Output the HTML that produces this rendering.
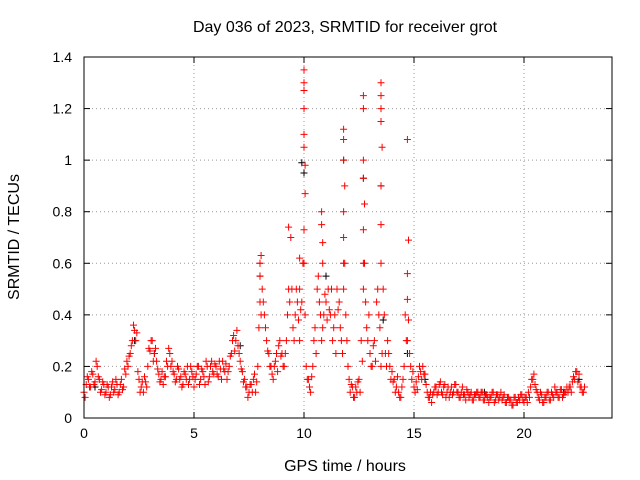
<!DOCTYPE html>
<html><head><meta charset="utf-8"><style>
body{margin:0;background:#fff;}
svg{display:block;font-family:"Liberation Sans",sans-serif;}
</style></head><body>
<svg id="chart" width="640" height="480">
<text x="345" y="32" font-size="16" text-anchor="middle">Day 036 of 2023, SRMTID for receiver grot</text>
<text x="345" y="471" font-size="16" text-anchor="middle">GPS time / hours</text>
<text x="19" y="237" font-size="16" text-anchor="middle" transform="rotate(-90 19 237)">SRMTID / TECUs</text>
<g id="grid"></g><g id="marks"></g>
<rect x="84" y="57" width="528" height="361" fill="none" stroke="#000"/>
</svg>
<script>
const xTicks=[0,5,10,15,20];
const yTicks=[0,0.2,0.4,0.6,0.8,1,1.2,1.4];
const yLabels=["0","0.2","0.4","0.6","0.8","1","1.2","1.4"];
const redValues=[
0.1,0.13,0.15,0.12,0.17,0.14,0.2,0.15,0.11,0.13,
0.1,0.12,0.09,0.14,0.11,0.13,0.1,0.15,0.12,0.17,
0.2,0.25,0.3,0.34,0.33,0.15,0.12,0.1,0.14,0.2,
0.26,0.3,0.25,0.22,0.17,0.15,0.13,0.16,0.2,0.25,
0.22,0.17,0.15,0.19,0.16,0.13,0.17,0.2,0.15,0.18,
0.12,0.17,0.2,0.15,0.18,0.13,0.2,0.16,0.22,0.17,
0.2,0.16,0.19,0.22,0.18,0.15,0.2,0.25,0.32,0.3,
0.28,0.22,0.18,0.15,0.12,0.1,0.13,0.15,0.1,0.2,
0.6,0.5,0.4,0.3,0.25,0.2,0.15,0.22,0.18,0.3,
0.25,0.2,0.3,0.5,0.7,0.35,0.4,0.45,0.3,0.45,
0.6,0.2,0.15,0.1,0.2,0.35,0.5,0.45,0.3,0.4,
0.45,0.5,0.4,0.3,0.4,0.5,0.45,0.3,0.5,0.4,
0.2,0.1,0.12,0.08,0.1,0.15,0.3,0.5,0.45,0.3,
0.25,0.2,0.3,0.45,0.4,0.2,0.5,0.25,0.3,0.2,
0.18,0.15,0.12,0.1,0.08,0.15,0.4,0.3,0.25,0.15,
0.12,0.14,0.16,0.18,0.2,0.17,0.1,0.08,0.06,0.1,
0.12,0.1,0.14,0.09,0.13,0.1,0.08,0.12,0.1,0.13,
0.1,0.08,0.12,0.09,0.11,0.08,0.1,0.07,0.09,0.1,
0.08,0.1,0.07,0.09,0.06,0.08,0.1,0.07,0.09,0.08,
0.07,0.09,0.06,0.08,0.07,0.05,0.08,0.06,0.07,0.09,
0.06,0.08,0.1,0.12,0.15,0.13,0.1,0.07,0.09,0.06,
0.08,0.1,0.07,0.09,0.12,0.1,0.08,0.11,0.09,0.1,
0.1,0.12,0.14,0.15,0.18,0.17,0.12,0.1];
const redAlt=[
0.08,0.16,0.12,0.18,0.13,0.22,0.16,0.1,0.14,0.09,
0.13,0.08,0.12,0.1,0.15,0.09,0.13,0.11,0.19,0.22,
0.24,0.28,0.36,0.3,0.18,0.1,0.14,0.16,0.12,0.27,
0.3,0.22,0.27,0.19,0.14,0.18,0.16,0.22,0.27,0.2,
0.18,0.14,0.2,0.15,0.12,0.18,0.15,0.13,0.2,0.16,
0.15,0.2,0.13,0.19,0.16,0.22,0.14,0.2,0.18,0.21,
0.17,0.22,0.15,0.19,0.21,0.18,0.24,0.3,0.26,0.34,
0.25,0.19,0.14,0.12,0.08,0.13,0.1,0.17,0.14,0.35,
0.63,0.45,0.35,0.26,0.2,0.17,0.2,0.25,0.28,0.24,
0.2,0.25,0.4,0.45,0.5,0.3,0.5,0.38,0.42,0.6,
0.4,0.15,0.12,0.16,0.3,0.25,0.55,0.4,0.35,0.48,
0.38,0.42,0.5,0.35,0.25,0.42,0.35,0.25,0.6,0.3,
0.15,0.13,0.08,0.12,0.14,0.1,0.22,0.6,0.35,0.4,
0.2,0.28,0.22,0.5,0.35,0.25,0.4,0.2,0.25,0.15,
0.14,0.1,0.16,0.08,0.12,0.2,0.3,0.38,0.2,0.18,
0.1,0.11,0.2,0.15,0.17,0.13,0.08,0.1,0.09,0.12,
0.09,0.13,0.1,0.12,0.08,0.12,0.1,0.09,0.13,0.1,
0.08,0.1,0.09,0.07,0.1,0.09,0.07,0.09,0.1,0.08,
0.1,0.07,0.09,0.08,0.08,0.1,0.06,0.09,0.07,0.1,
0.08,0.06,0.08,0.07,0.05,0.08,0.06,0.08,0.09,0.07,
0.08,0.06,0.08,0.15,0.17,0.11,0.08,0.1,0.06,0.08,
0.1,0.07,0.1,0.08,0.1,0.08,0.11,0.08,0.1,0.12,
0.12,0.1,0.16,0.18,0.14,0.12,0.1,0.12];
const spikeTimes=[8.0,8.0,8.0,8.05,9.3,9.8,9.8,10.0,10.0,10.0,10.0,10.0,10.0,10.05,10.05,10.0,10.0,10.8,10.8,10.85,10.85,11.8,11.8,11.8,11.85,11.8,11.8,11.8,12.7,12.7,12.7,12.7,12.75,12.7,12.7,13.5,13.5,13.5,13.5,13.55,13.5,13.5,13.5,14.7,14.75,14.7,14.7];
const spikeValues=[0.6,0.55,0.45,0.4,0.74,0.62,0.5,1.35,1.3,1.27,1.2,1.1,1.05,0.98,0.87,0.73,0.6,0.8,0.75,0.68,0.6,1.12,1.08,1.0,0.9,0.8,0.7,0.6,1.25,1.2,1.0,0.93,0.83,0.73,0.6,1.3,1.25,1.2,1.15,1.05,0.9,0.75,0.6,1.08,0.69,0.56,0.46];
const blackTimes=[0.5,2.3,3.2,7.1,8.0,9.9,10.0,11.0,11.8,12.7,13.5,13.5,13.6,14.7,15.5,18.2,21.8,22.5];
const blackValues=[0.12,0.3,0.25,0.28,0.55,0.99,0.95,0.55,1.0,0.93,1.15,0.9,0.38,0.25,0.15,0.1,0.1,0.15];

const NS="http://www.w3.org/2000/svg";
const X=t=>84+t*22, Y=v=>418-v*361/1.4;
const grid=document.getElementById('grid'), marks=document.getElementById('marks');
function ln(g,x1,y1,x2,y2,s,d){const l=document.createElementNS(NS,'line');l.setAttribute('x1',x1);l.setAttribute('y1',y1);l.setAttribute('x2',x2);l.setAttribute('y2',y2);l.setAttribute('stroke',s);if(d)l.setAttribute('stroke-dasharray',d);g.appendChild(l);return l;}
function tx(x,y,s,a){const t=document.createElementNS(NS,'text');t.setAttribute('x',x);t.setAttribute('y',y);t.setAttribute('font-size','14');t.setAttribute('text-anchor',a);t.textContent=s;grid.appendChild(t);return t;}
xTicks.forEach(t=>{const x=X(t);
 const g=ln(grid,x,57,x,418,'#999','1,3');
 
 
 ln(grid,x,418,x,412,'#000');ln(grid,x,57,x,63,'#000');
 const l=tx(x,438,String(t),'middle');
 
 });
yTicks.forEach((v,i)=>{const y=Y(v);
 const g=ln(grid,84,y,612,y,'#999','1,3');
 
 
 ln(grid,84,y,90,y,'#000');ln(grid,612,y,606,y,'#000');
 const l=tx(72,y+5,yLabels[i],'end');
 
 });
function plus(t,v,c,name){const x=X(t),y=Y(v);const p=document.createElementNS(NS,'path');
 p.setAttribute('d',`M${x-3.5} ${y}h7M${x} ${y-3.5}v7`);p.setAttribute('stroke',c);p.setAttribute('stroke-width','1');
 
 
 marks.appendChild(p);}
blackTimes.forEach((t,i)=>plus(t,blackValues[i],'#000','black-point'));
redValues.forEach((v,i)=>plus(i*0.1,v,'#f00','red-point'));
redAlt.forEach((v,i)=>plus(i*0.1+0.05,v,'#f00','red-point'));
spikeTimes.forEach((t,i)=>plus(t,spikeValues[i],'#f00','red-point'));
</script>
</body></html>
